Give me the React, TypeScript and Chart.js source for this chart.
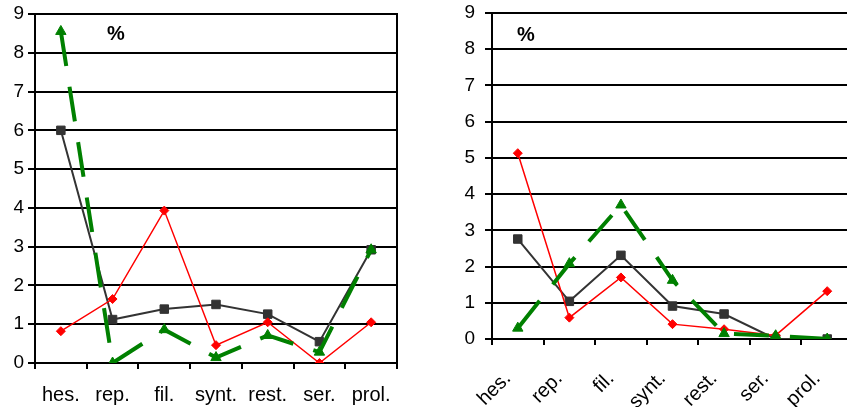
import React, { useEffect, useRef } from 'react';
import { Chart, registerables } from 'chart.js';

Chart.register(...registerables);

const categories = ['hes.', 'rep.', 'fil.', 'synt.', 'rest.', 'ser.', 'prol.'];

// Left panel
const leftBlack = [6.0, 1.12, 1.39, 1.51, 1.26, 0.55, 2.92];
const leftRed = [0.82, 1.65, 3.93, 0.46, 1.05, 0.0, 1.05];
const leftGreen = [8.55, 0.0, 0.86, 0.14, 0.71, 0.28, 2.92];

// Right panel
const rightBlack = [2.76, 1.04, 2.31, 0.91, 0.69, 0.0, 0.0];
const rightRed = [5.13, 0.59, 1.7, 0.41, 0.27, 0.1, 1.32];
const rightGreen = [0.3, 2.08, 3.7, 1.62, 0.15, 0.09, 0.0];

const yMin = 0;
const yMax = 9;
const yStep = 1;
const unitLabel = '%';

const FONT = '"Liberation Sans", Arial, sans-serif';

type PanelOpts = {
  black: number[];
  red: number[];
  green: number[];
  yWidth: number;
  xHeight: number;
  padTop: number;
  padRight: number;
  yPad: number;
  xPad: number;
  xLabelOffset: number;
  rotate: boolean;
  pctDx: number;
  pctDy: number;
};

function makeChart(canvas: HTMLCanvasElement, o: PanelOpts) {
  const overlay = {
    id: 'overlay',
    beforeDatasetsDraw(chart: any) {
      const { ctx, chartArea } = chart;
      ctx.save();
      ctx.strokeStyle = '#000';
      ctx.lineWidth = 2;
      ctx.beginPath();
      ctx.moveTo(Math.round(chartArea.right), chartArea.top - 1);
      ctx.lineTo(Math.round(chartArea.right), chartArea.bottom + 1);
      ctx.stroke();
      ctx.font = 'bold 20px ' + FONT;
      ctx.fillStyle = '#000';
      ctx.textBaseline = 'middle';
      ctx.textAlign = 'left';
      ctx.fillText(unitLabel, chartArea.left + o.pctDx, chartArea.top + o.pctDy);
      ctx.restore();
    },
  };

  return new Chart(canvas, {
    type: 'line',
    data: {
      labels: categories,
      datasets: [
        {
          data: o.green,
          borderColor: '#008000',
          backgroundColor: '#008000',
          borderWidth: 4,
          borderDash: [35, 21],
          pointStyle: 'triangle',
          pointRadius: 6,
          pointBorderWidth: 1,
          tension: 0,
        },
        {
          data: o.red,
          borderColor: '#ff0000',
          backgroundColor: '#ff0000',
          borderWidth: 1.5,
          pointStyle: 'rectRot',
          pointRadius: 4.5,
          pointBorderWidth: 1,
          tension: 0,
        },
        {
          data: o.black,
          borderColor: '#333333',
          backgroundColor: '#333333',
          borderWidth: 2,
          pointStyle: 'rect',
          pointRadius: 6,
          pointBorderWidth: 1,
          tension: 0,
        },
      ],
    },
    options: {
      responsive: false,
      animation: false,
      events: [],
      layout: { padding: { top: o.padTop, right: o.padRight, left: 0, bottom: 0 } },
      plugins: { legend: { display: false }, tooltip: { enabled: false } },
      scales: {
        x: {
          offset: true,
          afterFit: (s: any) => {
            s.height = o.xHeight;
            s.paddingLeft = 0;
            s.paddingRight = 0;
          },
          grid: {
            offset: true,
            drawOnChartArea: false,
            drawTicks: true,
            tickLength: 6,
            color: '#000',
            lineWidth: 2,
          },
          border: { display: true, color: '#000', width: 2 },
          ticks: {
            autoSkip: false,
            maxRotation: o.rotate ? 45 : 0,
            minRotation: o.rotate ? 45 : 0,
            padding: o.xPad,
            labelOffset: o.xLabelOffset,
            color: '#000',
            font: { family: FONT, size: 20 },
          },
        },
        y: {
          min: yMin,
          max: yMax,
          afterFit: (s: any) => {
            s.width = o.yWidth;
            s.paddingTop = 0;
            s.paddingBottom = 0;
          },
          grid: {
            color: '#000',
            lineWidth: 2,
            drawTicks: true,
            tickLength: 7,
          },
          border: { display: true, color: '#000', width: 2 },
          ticks: {
            stepSize: yStep,
            padding: o.yPad,
            color: '#000',
            font: { family: FONT, size: 19 },
          },
        },
      },
    },
    plugins: [overlay],
  } as any);
}

function Panel({ left, width, opts }: { left: number; width: number; opts: PanelOpts }) {
  const ref = useRef<HTMLCanvasElement>(null);
  useEffect(() => {
    if (!ref.current) return;
    const c = makeChart(ref.current, opts);
    return () => c.destroy();
  }, []);
  return (
    <canvas
      ref={ref}
      width={width}
      height={407}
      style={{ position: 'absolute', left, top: 0, width, height: 407 }}
    />
  );
}

export default function App() {
  return (
    <div
      style={{
        position: 'absolute',
        left: 0,
        top: 0,
        width: 847,
        height: 407,
        overflow: 'hidden',
        background: '#fff',
      }}
    >
      <Panel
        left={0}
        width={420}
        opts={{
          black: leftBlack,
          red: leftRed,
          green: leftGreen,
          yWidth: 35,
          xHeight: 44,
          padTop: 14,
          padRight: 23,
          yPad: 4,
          xPad: 14,
          xLabelOffset: 0,
          rotate: false,
          pctDx: 72,
          pctDy: 20,
        }}
      />
      <Panel
        left={430}
        width={440}
        opts={{
          black: rightBlack,
          red: rightRed,
          green: rightGreen,
          yWidth: 62,
          xHeight: 68,
          padTop: 13,
          padRight: 17,
          yPad: 10,
          xPad: 22,
          xLabelOffset: -10,
          rotate: true,
          pctDx: 25,
          pctDy: 22,
        }}
      />
    </div>
  );
}
